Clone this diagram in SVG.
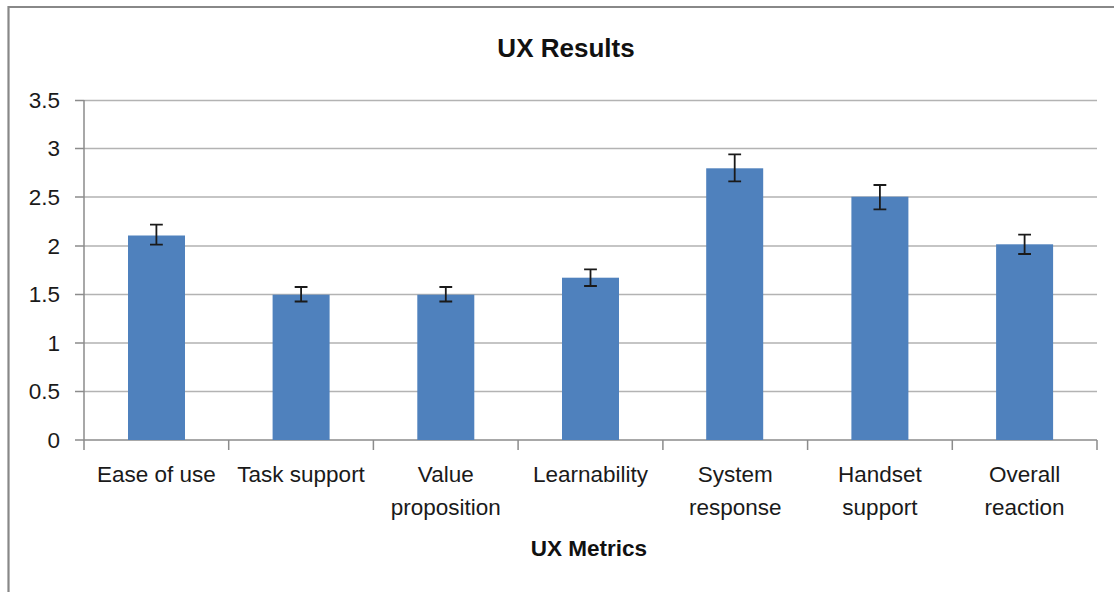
<svg xmlns="http://www.w3.org/2000/svg" width="1114" height="592" viewBox="0 0 1114 592">
<style>
.grid{stroke:#b3b3b3;stroke-width:1.5;fill:none}
.axis{stroke:#8c8c8c;stroke-width:1.5;fill:none}
.bar{fill:#4f81bd}
.err{stroke:#1a1a1a;stroke-width:1.8;fill:none}
.t{font-family:"Liberation Sans",Arial,sans-serif;font-size:22.5px;fill:#1a1a1a}
.yl{text-anchor:end}
.cl{text-anchor:middle}
.title{font-family:"Liberation Sans",Arial,sans-serif;font-weight:bold;fill:#111;text-anchor:middle}
</style>
<rect x="0" y="0" width="1114" height="592" fill="#ffffff"/>
<path d="M8.5 592 V7 H1114" stroke="#888888" stroke-width="2.2" fill="none"/>
<text class="title" x="566" y="57" font-size="26">UX Results</text>
<g id="grid">
<path class="grid" d="M84 100.5H1097M84 148.5H1097M84 197H1097M84 246H1097M84 294.5H1097M84 343H1097M84 391.5H1097"/>
</g>
<g id="axes">
<path class="axis" d="M84 100V440H1097"/>
<path class="axis" d="M75 100.5H84M75 148.5H84M75 197H84M75 246H84M75 294.5H84M75 343H84M75 391.5H84M75 440H84"/>
<path class="axis" d="M84 440V450M228.7 440V450M373.4 440V450M518.1 440V450M662.9 440V450M807.6 440V450M952.3 440V450M1097 440V450"/>
</g>
<g id="ylabels">
<text class="t yl" x="60" y="108">3.5</text>
<text class="t yl" x="60" y="156">3</text>
<text class="t yl" x="60" y="205">2.5</text>
<text class="t yl" x="60" y="254">2</text>
<text class="t yl" x="60" y="302">1.5</text>
<text class="t yl" x="60" y="351">1</text>
<text class="t yl" x="60" y="399">0.5</text>
<text class="t yl" x="60" y="448">0</text>
</g>
<g id="bar-ease">
<rect class="bar" x="128" y="235.5" width="57" height="204.5"/>
<path class="err" d="M156.4 224.7V244.7M150 224.7H162.8M150 244.7H162.8"/>
<text class="t cl" x="156.4" y="482">Ease of use</text>
</g>
<g id="bar-task">
<rect class="bar" x="272.6" y="294.7" width="57" height="145.3"/>
<path class="err" d="M301.1 287V301.5M294.7 287H307.5M294.7 301.5H307.5"/>
<text class="t cl" x="301.1" y="482">Task support</text>
</g>
<g id="bar-value">
<rect class="bar" x="417.3" y="294.7" width="57" height="145.3"/>
<path class="err" d="M445.8 287V301.5M439.4 287H452.2M439.4 301.5H452.2"/>
<text class="t cl" x="445.8" y="482">Value</text>
<text class="t cl" x="445.8" y="515">proposition</text>
</g>
<g id="bar-learn">
<rect class="bar" x="562" y="277.7" width="57" height="162.3"/>
<path class="err" d="M590.5 269.3V286M584.1 269.3H596.9M584.1 286H596.9"/>
<text class="t cl" x="590.5" y="482">Learnability</text>
</g>
<g id="bar-system">
<rect class="bar" x="706.2" y="168.3" width="57" height="271.7"/>
<path class="err" d="M734.7 154.3V181.3M728.3 154.3H741.1M728.3 181.3H741.1"/>
<text class="t cl" x="735.2" y="482">System</text>
<text class="t cl" x="735.2" y="515">response</text>
</g>
<g id="bar-handset">
<rect class="bar" x="851.4" y="196.7" width="57" height="243.3"/>
<path class="err" d="M879.9 185V209.3M873.5 185H886.3M873.5 209.3H886.3"/>
<text class="t cl" x="879.9" y="482">Handset</text>
<text class="t cl" x="879.9" y="515">support</text>
</g>
<g id="bar-overall">
<rect class="bar" x="996.1" y="244.3" width="57" height="195.7"/>
<path class="err" d="M1024.6 234.7V254M1018.2 234.7H1031M1018.2 254H1031"/>
<text class="t cl" x="1024.6" y="482">Overall</text>
<text class="t cl" x="1024.6" y="515">reaction</text>
</g>
<text class="title" x="589" y="556" font-size="22.5">UX Metrics</text>
</svg>
